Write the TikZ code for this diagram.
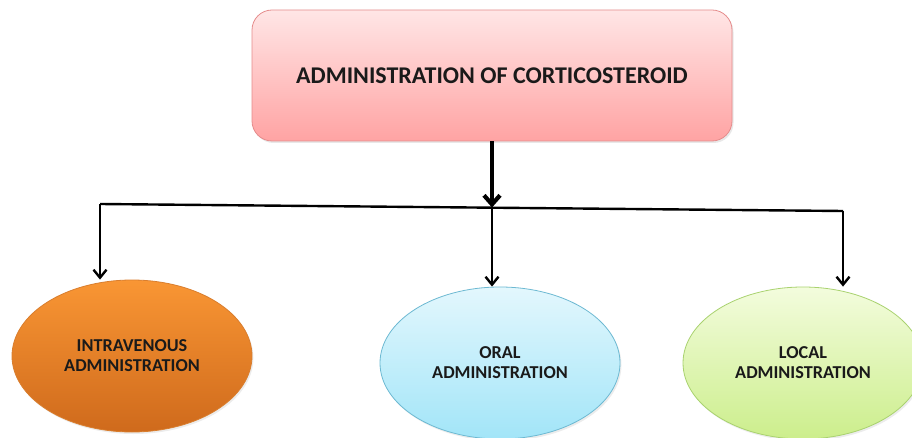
\documentclass[tikz,border=0pt]{standalone}
\usepackage{fontspec}
\setmainfont{Carlito}
\usetikzlibrary{arrows.meta,shapes.geometric,shadows}
\definecolor{pinkT}{HTML}{FFE6E6}
\definecolor{pinkB}{HTML}{FFA3A3}
\definecolor{pinkD}{HTML}{E58C8C}
\definecolor{orT}{HTML}{F99634}
\definecolor{orB}{HTML}{CF6A1C}
\definecolor{orD}{HTML}{D97E2E}
\definecolor{blT}{HTML}{E3F7FD}
\definecolor{blB}{HTML}{A2E5F8}
\definecolor{blD}{HTML}{6DB9D2}
\definecolor{grT}{HTML}{F3FCDD}
\definecolor{grB}{HTML}{CCEE8C}
\definecolor{grD}{HTML}{A9D26F}
\definecolor{txt}{HTML}{1A1A1A}
\tikzset{
  topbox/.style={rectangle, rounded corners=20pt, minimum width=480pt, minimum height=131pt,
    top color=pinkT, bottom color=pinkB, draw=pinkD, line width=0.8pt, text=txt,
    drop shadow={opacity=0.18, shadow xshift=1.5pt, shadow yshift=-2pt},
    font=\bfseries\fontsize{24}{28}\selectfont, align=center},
  oval/.style={ellipse, minimum width=240pt, minimum height=152pt, inner sep=0pt, line width=0.8pt,
    text=txt, drop shadow={opacity=0.15, shadow xshift=1.5pt, shadow yshift=-2pt},
    font=\bfseries\fontsize{18.2}{20}\selectfont, align=center},
  conn/.style={line width=2.4pt, black},
  tip/.style={-{Straight Barb[length=8pt,width=13pt]}},
  trunk/.style={line width=4.2pt, black, -{Straight Barb[length=9pt,width=16pt]}}
}
\begin{document}
\begin{tikzpicture}[x=1pt,y=-1pt]
\useasboundingbox (0,0) rectangle (912,438);
\clip (0,0) rectangle (912,438);
\node[topbox] (top) at (492,75.5) {ADMINISTRATION OF CORTICOSTEROID};
\node[oval, top color=orT, bottom color=orB, draw=orD] (iv) at (132,356) {INTRAVENOUS\\ADMINISTRATION};
\node[oval, top color=blT, bottom color=blB, draw=blD] (oral) at (500,363) {ORAL\\ADMINISTRATION};
\node[oval, top color=grT, bottom color=grB, draw=grD] (loc) at (803,363) {LOCAL\\ADMINISTRATION};
\coordinate (lc) at (100,204);
\coordinate (rc) at (843,211);
\coordinate (j) at (492,207.5);
\draw[conn] (lc) -- (rc);
\draw[trunk] (top.south) -- (j);
\draw[conn, tip] (lc) -- (lc |- iv.north);
\draw[conn, tip] (j) -- (j |- oral.north);
\draw[conn, tip] (rc) -- (rc |- loc.north);
\end{tikzpicture}
\end{document}
